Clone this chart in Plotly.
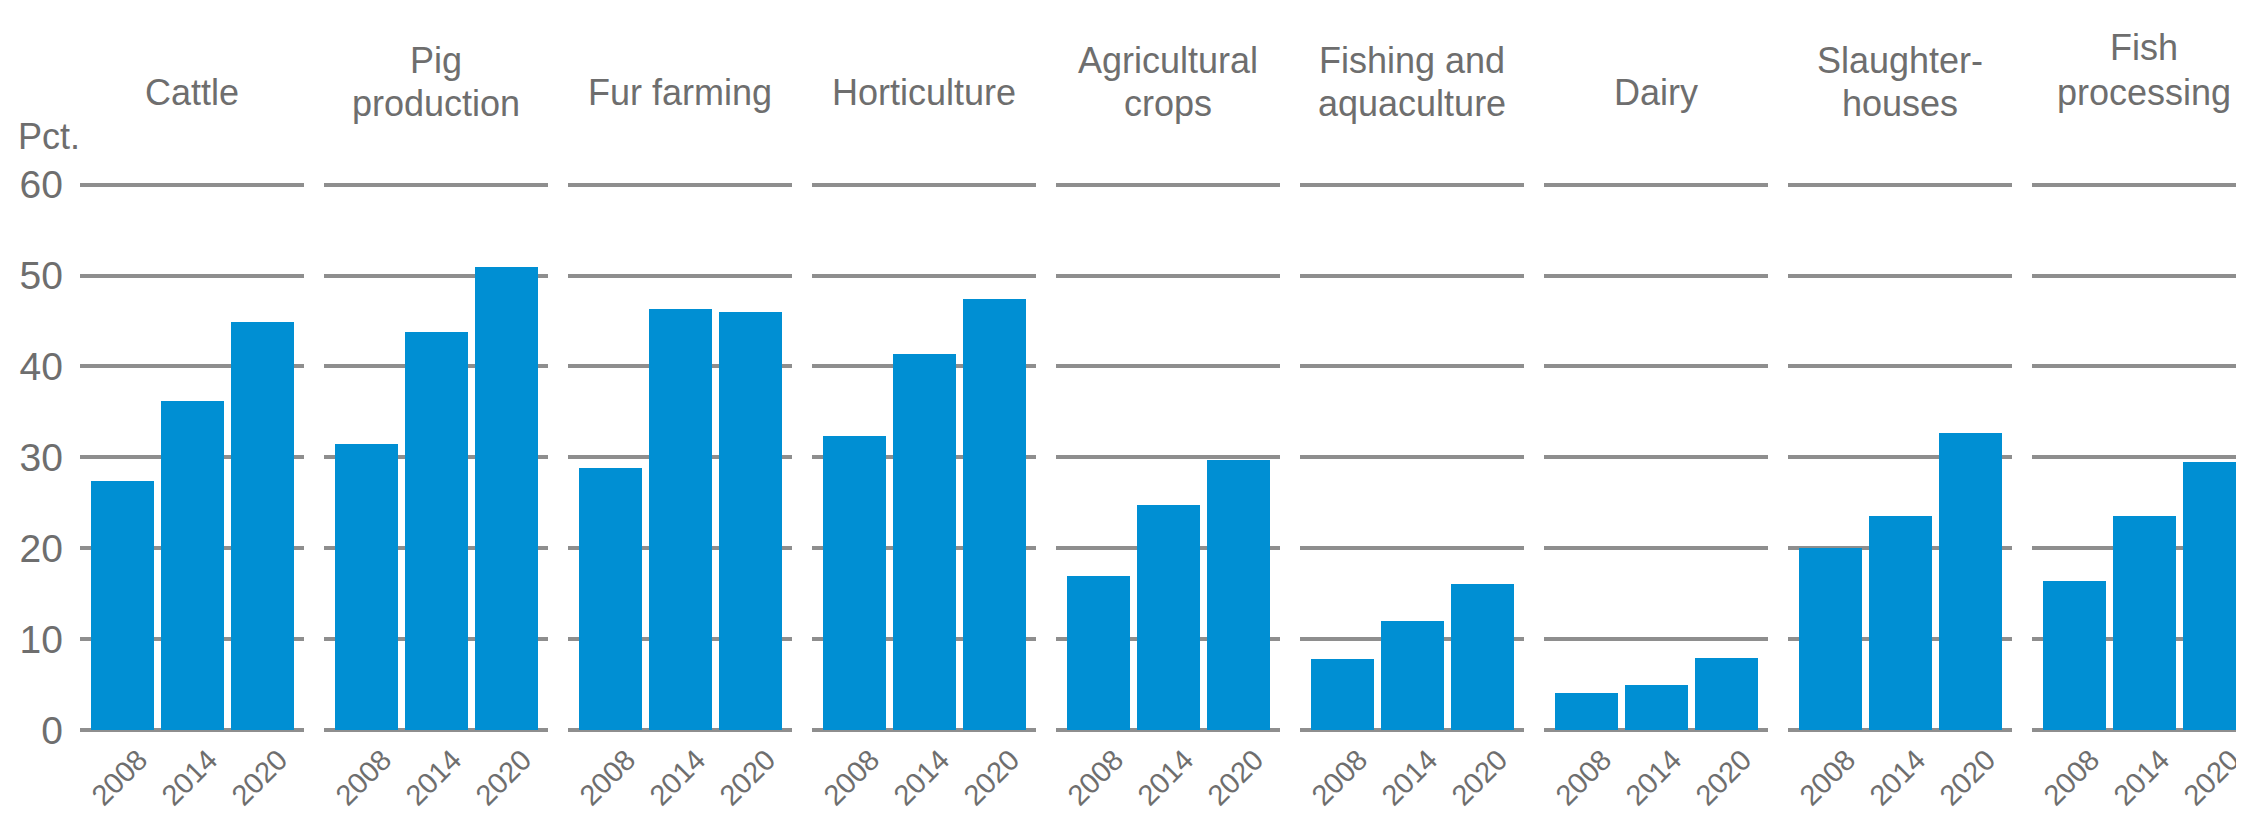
import plotly.graph_objects as go

# ---- data ----
categories = ["Cattle", "Pig\nproduction", "Fur farming", "Horticulture",
              "Agricultural\ncrops", "Fishing and\naquaculture", "Dairy",
              "Slaughter-\nhouses", "Fish\nprocessing"]
years = ["2008", "2014", "2020"]
cattle = [27.4, 36.2, 44.9]
pig_production = [31.5, 43.8, 51.0]
fur_farming = [28.9, 46.4, 46.0]
horticulture = [32.4, 41.4, 47.5]
agricultural_crops = [17.0, 24.8, 29.8]
fishing_aquaculture = [7.9, 12.0, 16.1]
dairy = [4.1, 5.0, 8.0]
slaughterhouses = [20.1, 23.6, 32.7]
fish_processing = [16.4, 23.6, 29.5]
y_ticks = [0, 10, 20, 30, 40, 50, 60]
y_unit = "Pct."

series = [cattle, pig_production, fur_farming, horticulture, agricultural_crops,
          fishing_aquaculture, dairy, slaughterhouses, fish_processing]

# ---- layout geometry (window pixels; page body has an 8px margin) ----
WIN_W, WIN_H = 2244, 815
OFF = 8
W, H = WIN_W - OFF, WIN_H - OFF
BAR = "#008fd3"
GRID = "#8e8e8e"
TXT = "#6e6e6e"
FONT = "Liberation Sans, Arial, sans-serif"

panel_x0, panel_period, panel_w = 80, 244, 224
px_per_unit = panel_w / 3.2
y0_px, y60_px = 730, 184.7
ymax = 61
px_per_y = (y0_px - y60_px) / 60
ytop_px = y0_px - ymax * px_per_y

def fx(px):
    return (px - OFF) / W

def fy(px):
    return 1 - (px - OFF) / H

fig = go.Figure()
annotations = []
for i, (cat, vals) in enumerate(zip(categories, series)):
    n = i + 1
    xa = "x" if n == 1 else f"x{n}"
    ya = "y" if n == 1 else f"y{n}"
    fig.add_trace(go.Bar(x=[0, 1, 2], y=vals, marker=dict(color=BAR, line=dict(width=0)),
                         width=0.9, xaxis=xa, yaxis=ya, showlegend=False))
    s = panel_x0 + i * panel_period
    e = min(s + panel_w, WIN_W)
    xr = [-0.6, -0.6 + (e - s) / px_per_unit]
    xkey = "xaxis" if n == 1 else f"xaxis{n}"
    ykey = "yaxis" if n == 1 else f"yaxis{n}"
    fig.layout[xkey] = dict(domain=[fx(s), min(fx(e), 1)], range=xr, anchor=ya,
                            tickvals=[0, 1, 2], ticktext=years, tickangle=-45,
                            tickfont=dict(family=FONT, size=29, color=TXT),
                            ticklabelshift=17, ticklabelstandoff=6,
                            ticklabeloverflow="allow",
                            showgrid=False, zeroline=False, showline=False, ticks="",
                            automargin=False, fixedrange=True)
    fig.layout[ykey] = dict(domain=[fy(y0_px), fy(ytop_px)], range=[0, ymax], anchor=xa,
                            tickvals=y_ticks, showticklabels=(n == 1),
                            tickfont=dict(family=FONT, size=39, color=TXT),
                            ticklabelstandoff=16,
                            showgrid=True, gridcolor=GRID, gridwidth=4,
                            zeroline=True, zerolinecolor=GRID, zerolinewidth=4,
                            showline=False, ticks="", automargin=False, fixedrange=True)
    # category label
    lines = cat.split("\n")
    cx = fx(s + panel_w / 2)
    if len(lines) == 1:
        ys = [92]
    else:
        ys = [61, 104]
    if cat.startswith("Fish\n"):
        ys = [47, 92]
    for ln, yp in zip(lines, ys):
        annotations.append(dict(text=ln, x=cx, y=fy(yp), xref="paper", yref="paper",
                                xanchor="center", yanchor="middle", showarrow=False,
                                font=dict(family=FONT, size=36, color=TXT)))

annotations.append(dict(text=y_unit, x=fx(16), y=fy(136), xref="paper", yref="paper",
                        xanchor="left", yanchor="middle", showarrow=False,
                        font=dict(family=FONT, size=36, color=TXT)))

fig.update_layout(width=W, height=H, margin=dict(l=0, r=0, t=0, b=0),
                  paper_bgcolor="white", plot_bgcolor="white",
                  annotations=annotations, bargap=0)
fig.write_html("out.html")
